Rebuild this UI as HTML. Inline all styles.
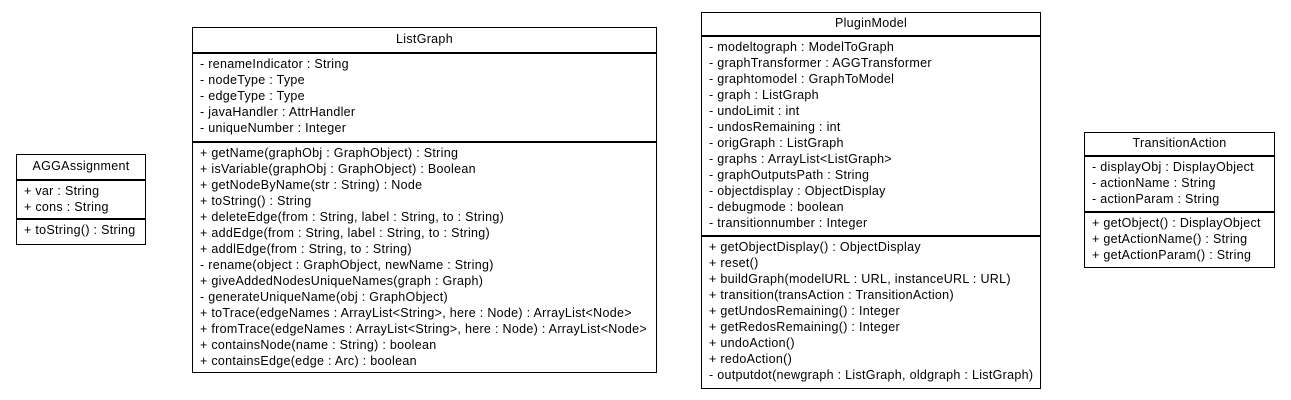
<!DOCTYPE html>
<html><head><style>
body{margin:0;width:1291px;height:400px;background:#fff;position:relative;font-family:"Liberation Sans",Arial,sans-serif;font-size:12.5px;letter-spacing:0.3px;color:#000;overflow:hidden}
.b{position:absolute;border:1px solid #000;box-sizing:border-box;background:#fff}
.h{text-align:center;border-bottom:2px solid #000;box-sizing:border-box;line-height:22px}
.s{padding:2px 0 0 7px;line-height:16px;white-space:nowrap;box-sizing:border-box}
.s.a{border-bottom:2px solid #000}
</style></head><body>
<div class="b" style="left:16px;top:154px;width:130px;height:91px">
<div class="h" style="height:26px">AGGAssignment</div>
<div class="s a" style="height:39px">+ var : String<br>+ cons : String</div>
<div class="s">+ toString() : String</div>
</div>
<div class="b" style="left:192px;top:27px;width:465px;height:346px">
<div class="h" style="height:26px">ListGraph</div>
<div class="s a" style="height:89px">- renameIndicator : String<br>- nodeType : Type<br>- edgeType : Type<br>- javaHandler : AttrHandler<br>- uniqueNumber : Integer</div>
<div class="s">+ getName(graphObj : GraphObject) : String<br>+ isVariable(graphObj : GraphObject) : Boolean<br>+ getNodeByName(str : String) : Node<br>+ toString() : String<br>+ deleteEdge(from : String, label : String, to : String)<br>+ addEdge(from : String, label : String, to : String)<br>+ addlEdge(from : String, to : String)<br>- rename(object : GraphObject, newName : String)<br>+ giveAddedNodesUniqueNames(graph : Graph)<br>- generateUniqueName(obj : GraphObject)<br>+ toTrace(edgeNames : ArrayList&lt;String&gt;, here : Node) : ArrayList&lt;Node&gt;<br>+ fromTrace(edgeNames : ArrayList&lt;String&gt;, here : Node) : ArrayList&lt;Node&gt;<br>+ containsNode(name : String) : boolean<br>+ containsEdge(edge : Arc) : boolean</div>
</div>
<div class="b" style="left:701px;top:12px;width:340px;height:377px">
<div class="h" style="height:24px;line-height:21px">PluginModel</div>
<div class="s a" style="height:200px">- modeltograph : ModelToGraph<br>- graphTransformer : AGGTransformer<br>- graphtomodel : GraphToModel<br>- graph : ListGraph<br>- undoLimit : int<br>- undosRemaining : int<br>- origGraph : ListGraph<br>- graphs : ArrayList&lt;ListGraph&gt;<br>- graphOutputsPath : String<br>- objectdisplay : ObjectDisplay<br>- debugmode : boolean<br>- transitionnumber : Integer</div>
<div class="s">+ getObjectDisplay() : ObjectDisplay<br>+ reset()<br>+ buildGraph(modelURL : URL, instanceURL : URL)<br>+ transition(transAction : TransitionAction)<br>+ getUndosRemaining() : Integer<br>+ getRedosRemaining() : Integer<br>+ undoAction()<br>+ redoAction()<br>- outputdot(newgraph : ListGraph, oldgraph : ListGraph)</div>
</div>
<div class="b" style="left:1084px;top:132px;width:191px;height:136px">
<div class="h" style="height:24px;line-height:21px">TransitionAction</div>
<div class="s a" style="height:56px">- displayObj : DisplayObject<br>- actionName : String<br>- actionParam : String</div>
<div class="s">+ getObject() : DisplayObject<br>+ getActionName() : String<br>+ getActionParam() : String</div>
</div>
</body></html>
